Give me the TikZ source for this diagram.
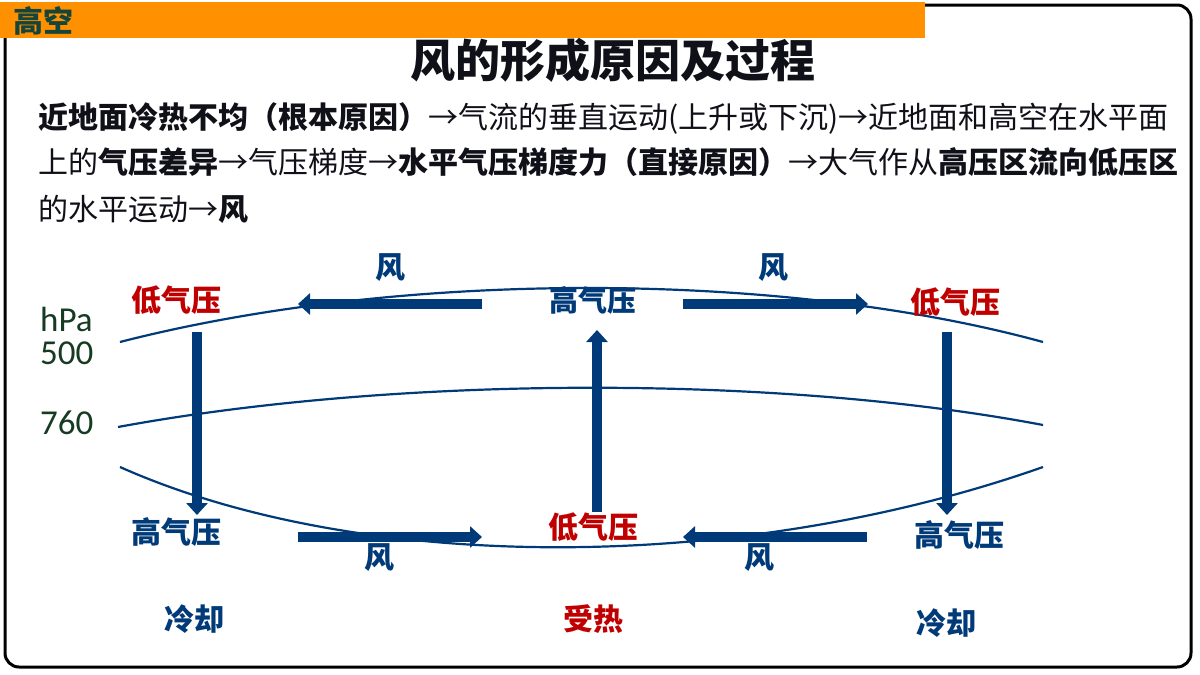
\documentclass[tikz,border=0pt]{standalone}
\usepackage{fontspec}
\setmainfont{Noto Sans CJK SC}
\newfontfamily\numfont{Carlito}
\usetikzlibrary{arrows.meta}
\definecolor{dblue}{HTML}{003A78}
\definecolor{dred}{HTML}{C00000}
\definecolor{orangebar}{HTML}{FF9000}
\definecolor{hdgreen}{HTML}{15453A}
\definecolor{txt}{HTML}{101018}
\definecolor{axisgreen}{HTML}{173B22}
\begin{document}
\begin{tikzpicture}[x=1pt,y=-1pt,
 lbl/.style={font=\fontsize{30}{34}\selectfont\bfseries, inner sep=0pt},
 bluelbl/.style={lbl,text=dblue},
 redlbl/.style={lbl,text=dred},
 windarrow/.style={line width=10pt,dblue,-{Triangle[length=12pt,width=21pt]}},
 isobar/.style={line width=2.2pt,dblue},
 para/.style={anchor=base west,inner sep=0pt,text=txt,font=\fontsize{30}{34}\selectfont},
 axislbl/.style={text=axisgreen,font=\numfont\fontsize{35}{40}\selectfont,inner sep=0pt,anchor=west}]

\useasboundingbox (0,0) rectangle (1200,675);
\fill[white] (0,0) rectangle (1200,675);
\draw[line width=3pt,rounded corners=14pt] (5,5) rectangle (1191,667);
\fill[orangebar] (0,2) rectangle (925,38);
\node[text=hdgreen,font=\fontsize{30}{32}\selectfont\bfseries,anchor=west,inner sep=0pt] (hdr) at (13,21) {高空};

\node[text=txt,font=\fontsize{45}{50}\selectfont\bfseries,inner sep=0pt] (title) at (613,60) {风的形成原因及过程};

\node[para] (l1) at (38,128) {\textbf{近地面冷热不均（根本原因）}→气流的垂直运动(上升或下沉)→近地面和高空在水平面};
\node[para] (l2) at (38,173) {上的\textbf{气压差异}→气压梯度→\textbf{水平气压梯度力（直接原因）}→大气作从\textbf{高压区流向低压区}};
\node[para] (l3) at (38,220) {的水平运动→\textbf{风}};

% isobars
\draw[isobar] (120,342) .. controls (400,270) and (780,270) .. (1043,342);
\draw[isobar] (118,427) .. controls (400,375) and (780,375) .. (1043,425);
\draw[isobar] (120,467) .. controls (360,574) and (740,574) .. (1043,467);

% axis labels
\node[axislbl] (hpa) at (40,319) {hPa};
\node[axislbl] (p500) at (40,353) {500};
\node[axislbl] (p760) at (40,423) {760};

% arrow end points
\coordinate (tlS) at (482,304); \coordinate (tlE) at (298,304);
\coordinate (trS) at (683,304); \coordinate (trE) at (868,304);
\coordinate (vlS) at (197,332); \coordinate (vlE) at (197,515);
\coordinate (vmS) at (597,512); \coordinate (vmE) at (597,330);
\coordinate (vrS) at (947,332); \coordinate (vrE) at (947,515);
\coordinate (blS) at (298,537); \coordinate (blE) at (482,537);
\coordinate (brS) at (867,537); \coordinate (brE) at (683,537);

\draw[windarrow] (tlS) -- (tlE);
\draw[windarrow] (trS) -- (trE);
\draw[windarrow] (vlS) -- (vlE);
\draw[windarrow] (vmS) -- (vmE);
\draw[windarrow] (vrS) -- (vrE);
\draw[windarrow] (blS) -- (blE);
\draw[windarrow] (brS) -- (brE);

% labels
\node[bluelbl] (w1) at (390,268) {风};
\node[bluelbl] (w2) at (773,268) {风};
\node[bluelbl] (w3) at (379,558) {风};
\node[bluelbl] (w4) at (759,558) {风};

\node[redlbl] (lpL) at (176,300) {低气压};
\node[bluelbl,font=\fontsize{29}{34}\selectfont\bfseries] (hpT) at (593,300) {高气压};
\node[redlbl] (lpR) at (955,302) {低气压};
\node[bluelbl] (hpL) at (176,532) {高气压};
\node[redlbl] (lpB) at (593,527) {低气压};
\node[bluelbl] (hpR) at (959,535) {高气压};

\node[bluelbl] (cL) at (194,619) {冷却};
\node[redlbl] (hot) at (593,619) {受热};
\node[bluelbl] (cR) at (946,623) {冷却};
\end{tikzpicture}
\end{document}
